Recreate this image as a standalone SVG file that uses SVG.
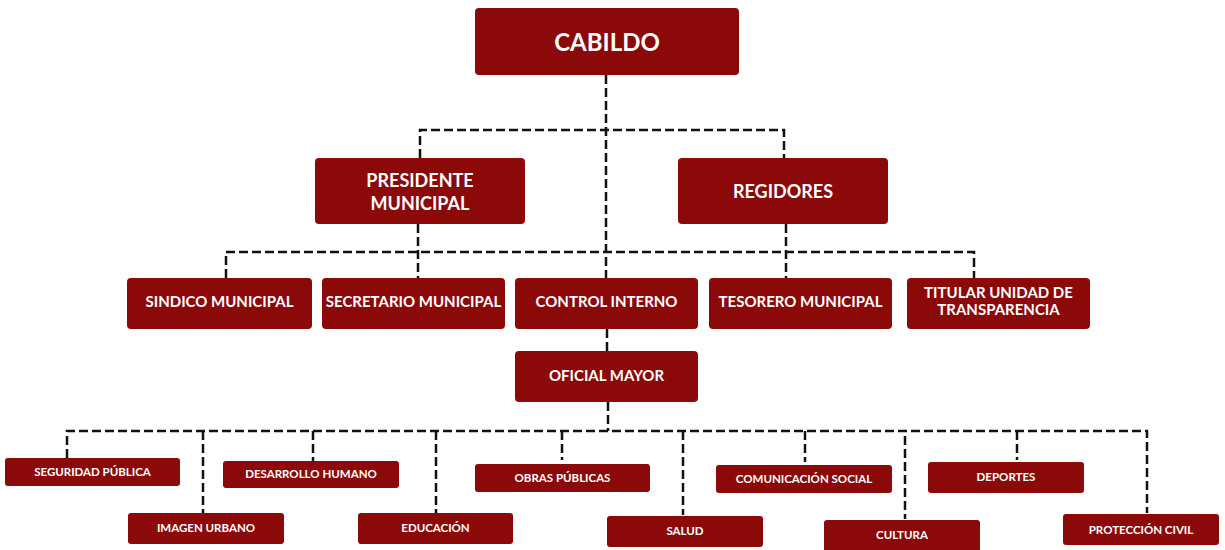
<svg xmlns="http://www.w3.org/2000/svg" width="1225" height="550" viewBox="0 0 1225 550">
<style>
.box{fill:#8c0909;}
.t{fill:#ffffff;font-family:Lato,"Open Sans","Liberation Sans",sans-serif;font-weight:700;text-anchor:middle;}
.l{fill:none;stroke:#111;stroke-width:2.5;stroke-dasharray:9,4;}
</style>
<rect width="1225" height="550" fill="#ffffff"/>
<g id="connectors">
<path class="l" d="M606,75 V278"/>
<path class="l" d="M420,158 V130 H784 V158"/>
<path class="l" d="M418,224 V278"/>
<path class="l" d="M786,224 V278"/>
<path class="l" d="M226,278 V252 H974 V278"/>
<path class="l" d="M607,329 V351"/>
<path class="l" d="M608,402 V431"/>
<path class="l" d="M67,458 V431 H1147 V513"/>
<path class="l" d="M203,431 V513"/>
<path class="l" d="M313,431 V461"/>
<path class="l" d="M436,431 V513"/>
<path class="l" d="M562,431 V460"/>
<path class="l" d="M683,431 V515"/>
<path class="l" d="M805,431 V462"/>
<path class="l" d="M905,436 V519"/>
<path class="l" d="M1017,431 V460"/>
</g>
<g id="cabildo"><rect class="box" x="475" y="8" width="264" height="67" rx="4"/><text class="t" x="607" y="51" font-size="24">CABILDO</text></g>
<g id="presidente"><rect class="box" x="315" y="158" width="210" height="66" rx="4"/><text class="t" x="420" y="186.5" font-size="18">PRESIDENTE</text><text class="t" x="420" y="209.5" font-size="18">MUNICIPAL</text></g>
<g id="regidores"><rect class="box" x="678" y="158" width="210" height="66" rx="4"/><text class="t" x="783" y="197.5" font-size="18">REGIDORES</text></g>
<g id="sindico"><rect class="box" x="127" y="278" width="185" height="51" rx="4"/><text class="t" x="219.5" y="307" font-size="15">SINDICO MUNICIPAL</text></g>
<g id="secretario"><rect class="box" x="322" y="278" width="183" height="51" rx="4"/><text class="t" x="413.5" y="307" font-size="15">SECRETARIO MUNICIPAL</text></g>
<g id="control"><rect class="box" x="515" y="278" width="183" height="51" rx="4"/><text class="t" x="606.5" y="307" font-size="15">CONTROL INTERNO</text></g>
<g id="tesorero"><rect class="box" x="709" y="278" width="183" height="51" rx="4"/><text class="t" x="800.5" y="307" font-size="15">TESORERO MUNICIPAL</text></g>
<g id="titular"><rect class="box" x="907" y="278" width="183" height="51" rx="4"/><text class="t" x="998.5" y="298" font-size="15">TITULAR UNIDAD DE</text><text class="t" x="998.5" y="315" font-size="15">TRANSPARENCIA</text></g>
<g id="oficial"><rect class="box" x="515" y="351" width="183" height="51" rx="4"/><text class="t" x="606.5" y="381" font-size="15">OFICIAL MAYOR</text></g>
<g id="seguridad"><rect class="box" x="5" y="458" width="175" height="28" rx="3"/><text class="t" x="92.5" y="475.5" font-size="11.5">SEGURIDAD PÚBLICA</text></g>
<g id="imagen"><rect class="box" x="128" y="513" width="156" height="31" rx="3"/><text class="t" x="206" y="532" font-size="11.5">IMAGEN URBANO</text></g>
<g id="desarrollo"><rect class="box" x="223" y="461" width="176" height="27" rx="3"/><text class="t" x="311" y="477.5" font-size="11.5">DESARROLLO HUMANO</text></g>
<g id="educacion"><rect class="box" x="358" y="513" width="155" height="31" rx="3"/><text class="t" x="435.5" y="532" font-size="11.5">EDUCACIÓN</text></g>
<g id="obras"><rect class="box" x="475" y="464" width="175" height="28" rx="3"/><text class="t" x="562.5" y="481.5" font-size="11.5">OBRAS PÚBLICAS</text></g>
<g id="salud"><rect class="box" x="607" y="516" width="156" height="31" rx="3"/><text class="t" x="685" y="534.5" font-size="11.5">SALUD</text></g>
<g id="comunicacion"><rect class="box" x="716" y="465" width="176" height="28" rx="3"/><text class="t" x="804" y="482.5" font-size="11.5">COMUNICACIÓN SOCIAL</text></g>
<g id="cultura"><rect class="box" x="824" y="520" width="156" height="32" rx="3"/><text class="t" x="902" y="538.5" font-size="11.5">CULTURA</text></g>
<g id="deportes"><rect class="box" x="928" y="462" width="156" height="31" rx="3"/><text class="t" x="1006" y="480.5" font-size="11.5">DEPORTES</text></g>
<g id="proteccion"><rect class="box" x="1063" y="514" width="156" height="31" rx="3"/><text class="t" x="1141" y="533.5" font-size="11.5">PROTECCIÓN CIVIL</text></g>
</svg>
